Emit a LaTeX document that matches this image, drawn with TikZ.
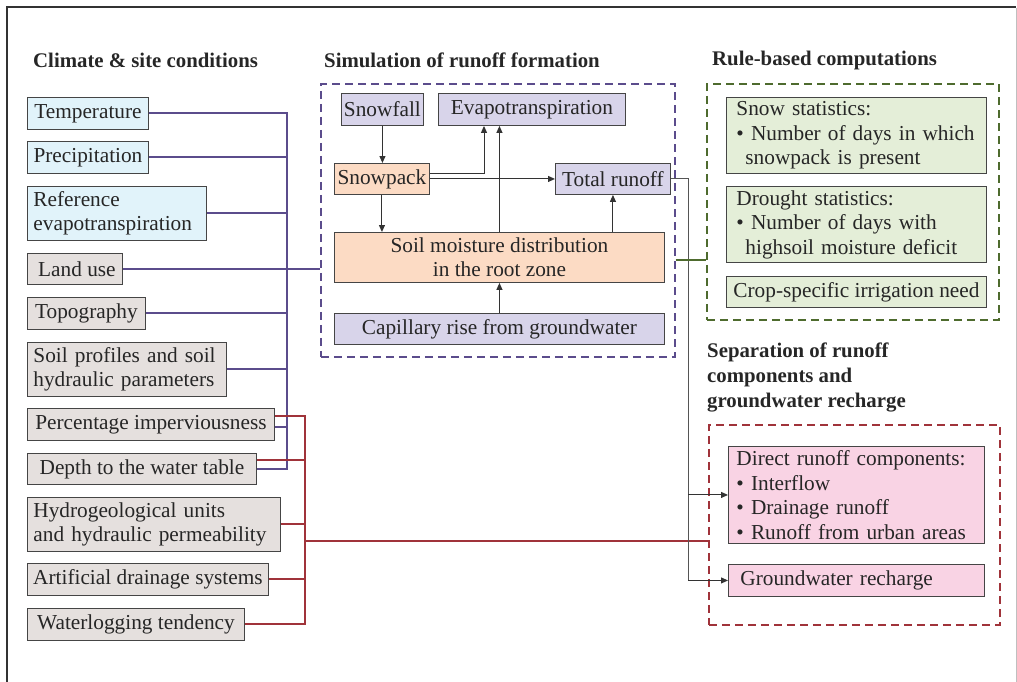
\documentclass[tikz,border=0pt]{standalone}
\usepackage{fontspec}
\setmainfont{Liberation Serif}
\usetikzlibrary{arrows.meta}
\definecolor{bxline}{HTML}{454545}
\definecolor{fblue}{HTML}{E1F3FA}
\definecolor{fgrey}{HTML}{E5E0DE}
\definecolor{flav}{HTML}{D8D4EA}
\definecolor{fpeach}{HTML}{FCDBC4}
\definecolor{fgreen}{HTML}{E4EED8}
\definecolor{fpink}{HTML}{F9D3E4}
\definecolor{cpurple}{HTML}{5B4C8C}
\definecolor{cred}{HTML}{A0333A}
\definecolor{cgreen}{HTML}{4E6B2E}
\definecolor{cgreyline}{HTML}{555555}
\newcommand{\boxfont}{\fontsize{21.3}{24.5}\selectfont}
\newcommand{\ttlfont}{\fontsize{20.8}{25}\selectfont\bfseries}
\tikzset{
  bx/.style={draw=bxline, line width=0.9pt, inner xsep=0pt, inner ysep=0pt, anchor=north west, font=\boxfont, text=black!85},
  bxl/.style={bx, align=left, inner xsep=6pt},
  ttl/.style={anchor=base west, inner sep=0pt, font=\ttlfont, text=black!85, align=left},
  dbox/.style={line width=1.5pt, dash pattern=on 8pt off 5pt, anchor=north west, inner sep=0pt},
  pline/.style={draw=cpurple, line width=2pt},
  rline/.style={draw=cred, line width=2pt},
  gline/.style={draw=cgreen, line width=2pt},
  kline/.style={draw=cgreyline, line width=1pt},
  arr/.style={draw=black!80, line width=1pt, -{Triangle[length=7pt,width=6pt]}},
}
\begin{document}
\begin{tikzpicture}[x=1pt,y=-1pt]
\useasboundingbox (0,0) rectangle (1017,681);
% frame
\draw[black!80, line width=2pt] (7,700) -- (7,7) -- (1016,7);
\draw[black!25, line width=1pt] (1016,8) -- (1016,700);

% titles
\node[ttl] (t1) at (33,67) {Climate \& site conditions};
\node[ttl] (t2) at (324,67) {Simulation of runoff formation};
\node[ttl] (t3) at (712,65) {Rule-based computations};
\node[ttl] (t4) at (707,407) {Separation of runoff\\components and\\groundwater recharge};

% left boxes
\node[bx, fill=fblue, minimum width=121pt, minimum height=32pt] (temp) at (27,97) {Temperature};
\node[bx, fill=fblue, minimum width=121pt, minimum height=32pt] (prec) at (27,141) {Precipitation};
\node[bxl, fill=fblue, text width=167pt, minimum height=54pt] (refe) at (27,186) {Reference\\evapotranspiration};
\node[bx, fill=fgrey, minimum width=95pt, minimum height=31pt] (land) at (27,253) {\hspace*{4pt}Land use};
\node[bx, fill=fgrey, minimum width=118pt, minimum height=32pt] (topo) at (27,297) {Topography};
\node[bxl, fill=fgrey, text width=187pt, minimum height=54pt] (soilp) at (27,342) {Soil profiles and soil\\hydraulic parameters};
\node[bx, fill=fgrey, minimum width=247pt, minimum height=32pt] (perc) at (27,408) {Percentage imperviousness};
\node[bx, fill=fgrey, minimum width=229pt, minimum height=31pt] (depth) at (27,453) {Depth to the water table};
\node[bxl, fill=fgrey, text width=241pt, minimum height=54pt] (hydro) at (27,497) {Hydrogeological units\\and hydraulic permeability};
\node[bx, fill=fgrey, minimum width=241pt, minimum height=32pt] (artif) at (27,563) {Artificial drainage systems};
\node[bx, fill=fgrey, minimum width=217pt, minimum height=32pt] (water) at (27,608) {Waterlogging tendency};

% middle
\node[dbox, draw=cpurple, minimum width=354pt, minimum height=273pt] (sim) at (320,83) {};
\node[bx, fill=flav, minimum width=82pt, minimum height=32pt] (snowf) at (341,93) {Snowfall};
\node[bx, fill=flav, minimum width=187pt, minimum height=32pt] (evap) at (438,93) {Evapotranspiration};
\node[bx, fill=fpeach, minimum width=95pt, minimum height=31pt] (snowp) at (334,163) {Snowpack};
\node[bx, fill=flav, minimum width=115pt, minimum height=31pt] (total) at (555,163) {Total runoff};
\node[bx, fill=fpeach, align=center, minimum width=330pt, minimum height=50pt] (soil) at (334,232) {Soil moisture distribution\\in the root zone};
\node[bx, fill=flav, minimum width=330pt, minimum height=31pt] (capil) at (334,313) {Capillary rise from groundwater};

% right top
\node[dbox, draw=cgreen, minimum width=292pt, minimum height=236pt] (rule) at (706,83) {};
\node[bxl, fill=fgreen, inner xsep=10pt, text width=240pt, minimum height=76pt] (snows) at (726,97) {Snow statistics:\\\textbullet\ Number of days in which\\\hspace*{9pt}snowpack is present};
\node[bxl, fill=fgreen, inner xsep=10pt, text width=240pt, minimum height=76pt] (drou) at (726,186) {Drought statistics:\\\textbullet\ Number of days with\\\hspace*{9pt}highsoil moisture deficit};
\node[bx, fill=fgreen, minimum width=260pt, minimum height=31pt] (crop) at (726,276) {Crop-specific irrigation need};

% right bottom
\node[dbox, draw=cred, minimum width=291pt, minimum height=200pt] (sep) at (708,424) {};
\node[bxl, fill=fpink, inner xsep=8pt, text width=240pt, minimum height=97pt] (direct) at (728,446) {Direct runoff components:\\\textbullet\ Interflow\\\textbullet\ Drainage runoff\\\textbullet\ Runoff from urban areas};
\node[bxl, fill=fpink, inner xsep=12pt, text width=232pt, minimum height=32pt] (gwr) at (728,564) {Groundwater recharge};

% bus coordinates
\coordinate (pbus) at (287,0);
\coordinate (rbus) at (305,0);
\coordinate (kbus) at (688,0);
\coordinate (gy) at (0,260);
\coordinate (ry) at (0,541);
\coordinate (ex) at (484,0);

% purple connectors
\draw[pline] (temp.east) -- (temp.east -| pbus) -- ([yshift=-0.5pt]depth.east -| pbus) -- ([yshift=-0.5pt]depth.east);
\draw[pline] (prec.east) -- (prec.east -| pbus);
\draw[pline] (refe.east) -- (refe.east -| pbus);
\draw[pline] (land.east) -- (land.east -| sim.west);
\draw[pline] (topo.east) -- (topo.east -| pbus);
\draw[pline] (soilp.east) -- (soilp.east -| pbus);
\draw[pline] ([yshift=-3pt]perc.east) -- ([yshift=-3pt]perc.east -| pbus);

% red connectors
\draw[rline] ([yshift=8pt]perc.east) -- ([yshift=8pt]perc.east -| rbus) -- (water.east -| rbus) -- (water.east);
\draw[rline] ([yshift=8.5pt]depth.east) -- ([yshift=8.5pt]depth.east -| rbus);
\draw[rline] (hydro.east) -- (hydro.east -| rbus);
\draw[rline] (artif.east) -- (artif.east -| rbus);
\draw[rline] (ry -| rbus) -- (ry -| sep.west);

% middle arrows
\draw[arr] (snowf.south) -- (snowf.south |- snowp.north);
\draw[arr] (snowp.south) -- (snowp.south |- soil.north);
\draw[arr] ([yshift=5.5pt]snowp.east) -| (ex |- evap.south);
\draw[arr] (snowp.east) -- (total.west);
\draw[arr] (soil.north) -- (soil.north |- evap.south);
\draw[arr] (soil.north -| total.south) -- (total.south);
\draw[arr] (capil.north) -- (capil.north |- soil.south);

% grey connector from total runoff
\draw[kline] (total.east) -- (total.east -| kbus) -- (gwr.west -| kbus);
\draw[arr] (direct.west -| kbus) -- (direct.west);
\draw[arr] (gwr.west -| kbus) -- (gwr.west);

% green connector
\draw[gline] (gy -| sim.east) -- (gy -| rule.west);
\end{tikzpicture}
\end{document}
